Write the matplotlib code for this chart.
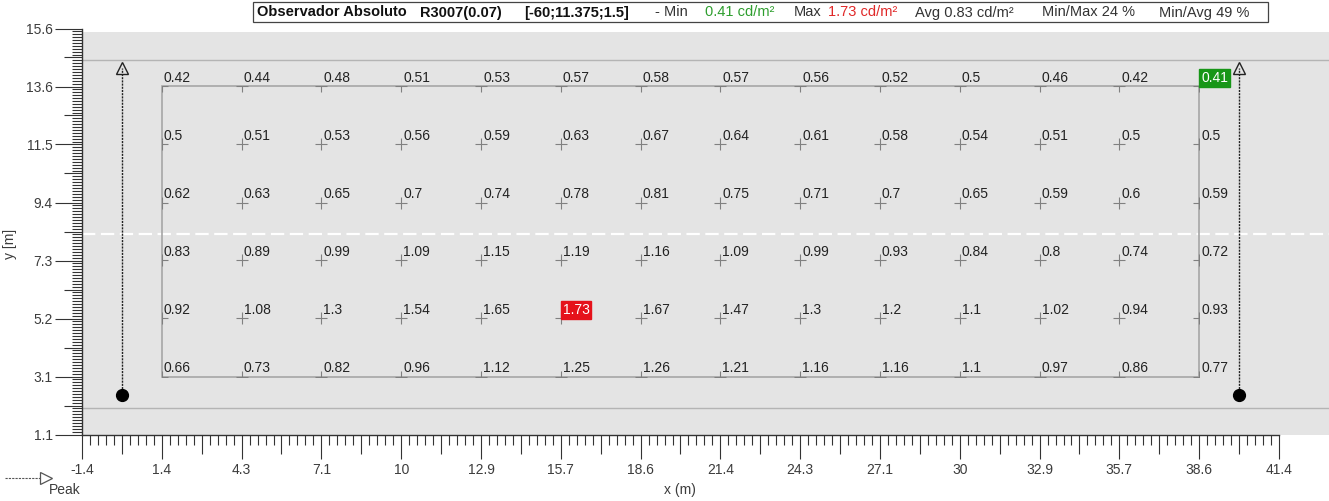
import numpy as np
import matplotlib
matplotlib.use("Agg")
import matplotlib.pyplot as plt
from matplotlib import font_manager
from matplotlib.patches import Rectangle
from matplotlib.lines import Line2D

names = {f.name for f in font_manager.fontManager.ttflist}
narrow = 'Liberation Sans Narrow' if 'Liberation Sans Narrow' in names else 'Liberation Sans'
plt.rcParams['font.family'] = ['Liberation Sans', 'DejaVu Sans']

# grid of luminance values (cd/m2), rows from top to bottom
x_cols = [1.43, 4.29, 7.14, 10.0, 12.86, 15.71, 18.57, 21.43, 24.29, 27.14, 30.0, 32.86, 35.71, 38.57]
y_rows = [13.55, 11.47, 9.38, 7.3, 5.22, 3.13]
lum = [
    [0.42, 0.44, 0.48, 0.51, 0.53, 0.57, 0.58, 0.57, 0.56, 0.52, 0.5, 0.46, 0.42, 0.41],
    [0.5, 0.51, 0.53, 0.56, 0.59, 0.63, 0.67, 0.64, 0.61, 0.58, 0.54, 0.51, 0.5, 0.5],
    [0.62, 0.63, 0.65, 0.7, 0.74, 0.78, 0.81, 0.75, 0.71, 0.7, 0.65, 0.59, 0.6, 0.59],
    [0.83, 0.89, 0.99, 1.09, 1.15, 1.19, 1.16, 1.09, 0.99, 0.93, 0.84, 0.8, 0.74, 0.72],
    [0.92, 1.08, 1.3, 1.54, 1.65, 1.73, 1.67, 1.47, 1.3, 1.2, 1.1, 1.02, 0.94, 0.93],
    [0.66, 0.73, 0.82, 0.96, 1.12, 1.25, 1.26, 1.21, 1.16, 1.16, 1.1, 0.97, 0.86, 0.77],
]
xtick_labels = ['-1.4', '1.4', '4.3', '7.1', '10', '12.9', '15.7', '18.6', '21.4',
                '24.3', '27.1', '30', '32.9', '35.7', '38.6', '41.4']
ytick_labels = ['1.1', '3.1', '5.2', '7.3', '9.4', '11.5', '13.6', '15.6']

# observers and road
obs_x = [0.0, 40.0]
obs_y0 = 2.47
obs_y1 = 14.2
road_edges = [2.0, 14.5]
centre_line = 8.25

W, H = 1329, 501
fig = plt.figure(figsize=(W / 100, H / 100), dpi=100)
ax = fig.add_axes([82 / W, (H - 434.5) / H, 1247 / W, 406 / H])
x0, x1 = -1.4286, 41.4286
y0, y1 = 1.05, 15.633
ax.set_xlim(x0, 43.22)
ax.set_ylim(y0, y1)
ax.set_facecolor('white')

ax.add_patch(Rectangle((x0, y0), 50, 15.5 - y0, facecolor='#e4e4e4', edgecolor='none', zorder=0))
for yy in road_edges:
    ax.axhline(yy, color='#b4b4b4', lw=1, zorder=1)
ax.axhline(centre_line, color='white', lw=1.6, dashes=(6, 2.5), zorder=1)

# measuring field
border = Rectangle((x_cols[0], y_rows[-1]), x_cols[-1] - x_cols[0], y_rows[0] - y_rows[-1],
                   facecolor='none', edgecolor='#a6a6a6', lw=1.2, zorder=2)
ax.add_patch(border)
XX, YY = np.meshgrid(x_cols, y_rows)
sc = ax.scatter(XX.ravel(), YY.ravel(), marker='+', s=80, c='#808080', linewidths=0.8, zorder=3)
sc.set_clip_path(border)

vals = np.array(lum)
vmin, vmax = vals.min(), vals.max()
for i, yy in enumerate(y_rows):
    for j, xx in enumerate(x_cols):
        v = lum[i][j]
        kw = dict(color='#222222')
        if v == vmax:
            kw = dict(color='white', bbox=dict(boxstyle='square,pad=0.12', fc='#e5121b', ec='#e5121b'))
        elif v == vmin:
            kw = dict(color='white', bbox=dict(boxstyle='square,pad=0.12', fc='#179617', ec='#179617'))
        ax.annotate(f'{v:g}', (xx, yy), xytext=(2, 4.5), textcoords='offset pixels',
                    ha='left', va='baseline', fontsize=10, zorder=4, **kw)

# observers
for ox in obs_x:
    ax.plot([ox, ox], [obs_y0, obs_y1], color='#222222', lw=1, dashes=(1.5, 0.8), zorder=4)
    ax.plot(ox, obs_y1, marker='^', ms=9, mfc='none', mec='#222222', mew=1, zorder=5)
    ax.plot(ox, obs_y0, marker='o', ms=8.5, color='black', zorder=5)

# axes, ticks
for s in ['top', 'right']:
    ax.spines[s].set_visible(False)
ax.spines['bottom'].set_bounds(x0, x1)
ax.spines['left'].set_bounds(y0, y1)
for s in ['bottom', 'left']:
    ax.spines[s].set_color('#333333')
    ax.spines[s].set_linewidth(1)
    ax.spines[s].set_zorder(6)

xt = np.linspace(x0, x1, 16)
yt = np.linspace(y0, y1, 8)
ax.set_xticks(xt, xtick_labels)
ax.set_yticks(yt, ytick_labels)
dx = xt[1] - xt[0]
dy = yt[1] - yt[0]
xminor = [a + dx * k / 10 for a in xt[:-1] for k in range(1, 10) if k != 5]
yminor = [a + dy * k / 20 for a in yt[:-1] for k in range(1, 20) if k != 10]
ax.set_xticks(xminor, minor=True)
ax.set_yticks(yminor, minor=True)
ax.tick_params(axis='x', which='major', length=17, width=0.8, color='#333333', pad=3.5,
               labelsize=10, labelcolor='#3c3c3c')
ax.tick_params(axis='y', which='major', length=19.5, width=0.8, color='#333333', pad=1.5,
               labelsize=10, labelcolor='#3c3c3c')
ax.tick_params(which='minor', length=7, width=0.8, color='#333333')
# medium ticks
ax.vlines(xt[:-1] + dx / 2, -19 / 406, 0, transform=ax.get_xaxis_transform(),
          color='#333333', lw=0.8, clip_on=False)
ax.hlines(yt[:-1] + dy / 2, -18 / 1247, 0, transform=ax.get_yaxis_transform(),
          color='#333333', lw=0.8, clip_on=False)

fig.text(10 / W, 1 - 244 / H, 'y [m]', rotation=90, ha='center', va='center',
         fontsize=10, color='#3c3c3c')
fig.text(680 / W, 1 - 490 / H, 'x (m)', ha='center', va='center', fontsize=10, color='#3c3c3c')

# Peak legend
fig.add_artist(Line2D([5 / W, 41 / W], [1 - 478 / H] * 2, color='#555555', lw=0.8, dashes=(2, 1)))
fig.add_artist(Line2D([46 / W], [1 - 478 / H], marker='>', ms=9, mfc='white', mec='#555555', mew=0.9))
fig.text(49 / W, 1 - 490 / H, 'Peak', ha='left', va='center', fontsize=10, color='#3c3c3c')

# header
fig.add_artist(Rectangle((253 / W, 1 - 22 / H), 1015 / W, 20 / H, transform=fig.transFigure,
                         facecolor='white', edgecolor='#444444', lw=0.9))
header = [
    (257, 'Observador Absoluto', 'bold', '#111111'),
    (420, 'R3007(0.07)', 'bold', '#111111'),
    (524, '[-60;11.375;1.5]', 'bold', '#111111'),
    (655, '- Min', 'normal', '#333333'),
    (705, '0.41 cd/m²', 'normal', '#2e9e2e'),
    (794, 'Max', 'normal', '#333333'),
    (828, '1.73 cd/m²', 'normal', '#e02828'),
    (915, 'Avg 0.83 cd/m²', 'normal', '#333333'),
    (1042, 'Min/Max 24 %', 'normal', '#333333'),
    (1159, 'Min/Avg 49 %', 'normal', '#333333'),
]
for hx, txt, wt, col in header:
    fig.text(hx / W, 1 - 12.5 / H, txt, ha='left', va='center', fontsize=10.5,
             fontweight=wt, color=col, family=[narrow, 'DejaVu Sans'])

fig.savefig('out.png', dpi=100)
